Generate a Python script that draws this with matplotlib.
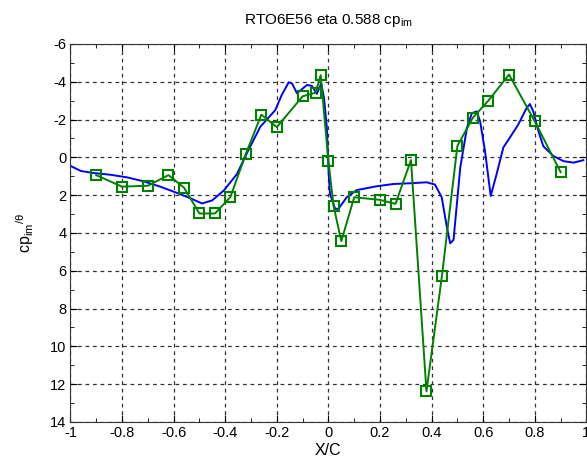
import matplotlib.pyplot as plt
from matplotlib.ticker import MultipleLocator

plt.rcParams["font.family"] = ["Liberation Sans", "DejaVu Sans"]
plt.rcParams["mathtext.fontset"] = "custom"
plt.rcParams["mathtext.rm"] = "Liberation Sans"
plt.rcParams["mathtext.it"] = "Liberation Sans"
plt.rcParams["axes.unicode_minus"] = False

# measured points (green squares)
meas_x = [-0.90, -0.80, -0.70, -0.62, -0.56, -0.50, -0.44, -0.38, -0.32, -0.26,
          -0.20, -0.10, -0.05, -0.03, 0.00, 0.02, 0.05, 0.10, 0.20, 0.26,
          0.32, 0.38, 0.44, 0.50, 0.56, 0.62, 0.70, 0.80, 0.90]
meas_cp = [0.94, 1.55, 1.50, 0.94, 1.60, 2.97, 2.97, 2.10, -0.19, -2.26,
           -1.60, -3.23, -3.42, -4.35, 0.20, 2.58, 4.43, 2.11, 2.25, 2.46,
           0.14, 12.38, 6.27, -0.61, -2.10, -3.00, -4.38, -1.90, 0.78]

# computed curve (blue)
calc_x = [-1.00, -0.96, -0.91, -0.845, -0.78, -0.716, -0.652, -0.587, -0.529, -0.49,
          -0.451, -0.406, -0.355, -0.315, -0.264, -0.206, -0.181, -0.154, -0.141, -0.122,
          -0.083, -0.064, -0.045, -0.028, -0.017, -0.006, 0.001, 0.006, 0.026, 0.039,
          0.071, 0.11, 0.187, 0.252, 0.316, 0.381, 0.413, 0.439, 0.459, 0.472,
          0.485, 0.511, 0.537, 0.556, 0.575, 0.588, 0.607, 0.629, 0.652, 0.678,
          0.703, 0.736, 0.768, 0.781, 0.794, 0.814, 0.833, 0.872, 0.911, 0.95, 0.988]
calc_cp = [0.45, 0.72, 0.83, 0.92, 1.06, 1.27, 1.55, 1.88, 2.20, 2.44,
           2.28, 1.76, 0.89, -0.25, -1.62, -2.50, -3.30, -3.97, -3.91, -3.39,
           -3.83, -3.78, -3.36, -3.91, -3.13, -1.56, 0.88, 1.93, 2.72, 2.72,
           2.11, 1.73, 1.53, 1.41, 1.37, 1.32, 1.44, 2.11, 3.68, 4.55,
           4.36, 0.54, -1.56, -2.34, -2.43, -1.90, -0.33, 2.04, 0.88, -0.52,
           -1.04, -1.74, -2.61, -2.82, -2.43, -1.38, -0.59, -0.07, 0.20, 0.28, 0.15]

fig = plt.figure(figsize=(5.87, 4.65), dpi=100)
ax = fig.add_axes([0.120, 0.0925, 0.879, 0.813])

ax.plot(calc_x, calc_cp, color="#0000ff", lw=1.4)
ax.plot(meas_x, meas_cp, color="#008000", lw=1.4, marker="s", ms=7.5,
        mfc="none", mec="#008000", mew=1.5)

ax.set_xlim(-1, 1)
ax.set_ylim(14, -6)
ax.xaxis.set_major_locator(MultipleLocator(0.2))
ax.xaxis.set_minor_locator(MultipleLocator(0.1))
ax.yaxis.set_major_locator(MultipleLocator(2))
ax.yaxis.set_minor_locator(MultipleLocator(1))
ax.tick_params(which="both", direction="in", top=True, right=True, labelsize=10.5)
ax.tick_params(which="major", length=5, pad=3)
ax.tick_params(which="minor", length=3)
ax.set_xticks([-1, -0.8, -0.6, -0.4, -0.2, 0, 0.2, 0.4, 0.6, 0.8, 1])
ax.set_xticklabels(["-1", "-0.8", "-0.6", "-0.4", "-0.2", "0", "0.2", "0.4", "0.6", "0.8", "1"])
ax.grid(True, which="major", color="#333333", linestyle=(0, (3, 3)), linewidth=0.9)
for s in ax.spines.values():
    s.set_color("#333333")

ax.set_title("RTO6E56 eta 0.588 cp$_{\\mathrm{im}}$", fontsize=11, pad=14)
ax.set_xlabel("X/C", fontsize=11.5, labelpad=2)
ax.set_ylabel("cp$_{\\mathrm{im}}$$^{/\\theta}$", fontsize=11.5, labelpad=10)

fig.savefig("out.png", dpi=100)
